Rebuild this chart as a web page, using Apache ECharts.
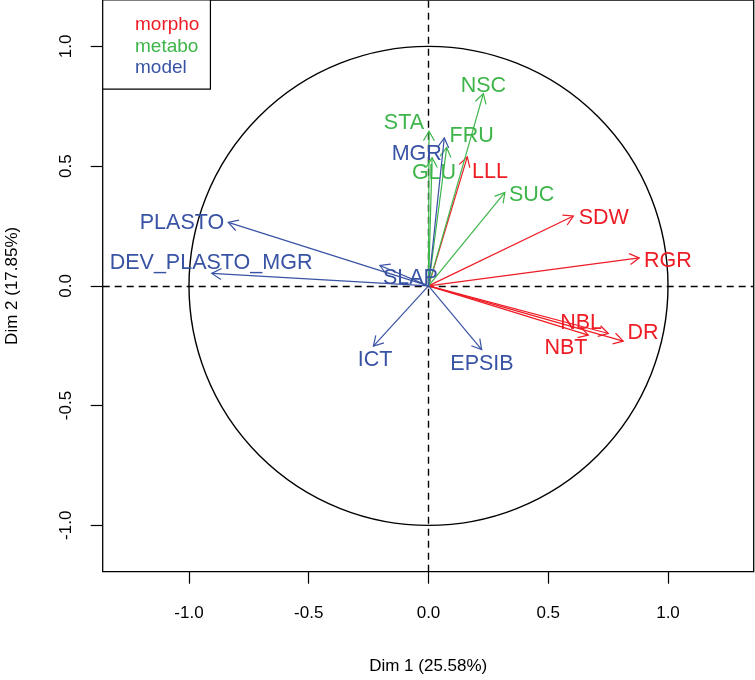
<!DOCTYPE html>
<html><head><meta charset="utf-8">
<script src="https://cdn.jsdelivr.net/npm/echarts@6/dist/echarts.min.js"></script>
<style>html,body{margin:0;padding:0;background:#fff}#c{width:755px;height:680px}</style>
</head><body><div id="c"></div>
<script>
// ---- data ----
const groupNames = ['morpho', 'metabo', 'model'];
const morphoVars = ['LLL', 'SDW', 'RGR', 'DR', 'NBL', 'NBT'];
const morphoDim1 = [0.162, 0.605, 0.880, 0.813, 0.751, 0.667];
const morphoDim2 = [0.539, 0.292, 0.117, -0.231, -0.199, -0.206];
const metaboVars = ['NSC', 'STA', 'FRU', 'GLU', 'SUC'];
const metaboDim1 = [0.229, 0.002, 0.076, 0.015, 0.319];
const metaboDim2 = [0.803, 0.646, 0.578, 0.535, 0.390];
const modelVars = ['MGR', 'PLASTO', 'DEV_PLASTO_MGR', 'SLAP', 'ICT', 'EPSIB'];
const modelDim1 = [0.066, -0.836, -0.905, -0.203, -0.230, 0.222];
const modelDim2 = [0.618, 0.265, 0.052, 0.085, -0.252, -0.266];
const tickValues = [-1, -0.5, 0, 0.5, 1];
const circleRadius = 1;
const xTitle = 'Dim 1 (25.58%)';
const yTitle = 'Dim 2 (17.85%)';

// ---- styles (label offsets in px, colours) ----
const groupColors = ['#EE1C25', '#3DB54A', '#3953A4'];
const morphoLabelOff = [[22.7, 15], [30.4, 2.6], [28.7, 3.3], [19.7, -8.3], [-27.3, -10], [-22.3, 13.3]];
const metaboLabelOff = [[0, -7.5], [-25, -8.3], [25, -11], [1.9, 15.7], [26.7, 3]];
const modelLabelOff = [[-27.6, 16.3], [-46.3, 1], [-0.7, -10.8], [30.5, 12.7], [1.7, 14], [0.3, 14.7]];
const FONT = '"Liberation Sans", Arial, Helvetica, sans-serif';

const groups = [
  {names: morphoVars, d1: morphoDim1, d2: morphoDim2, off: morphoLabelOff},
  {names: metaboVars, d1: metaboDim1, d2: metaboDim2, off: metaboLabelOff},
  {names: modelVars, d1: modelDim1, d2: modelDim2, off: modelLabelOff}
];

function arrowSeries(gi) {
  const g = groups[gi];
  const color = groupColors[gi];
  return {
    type: 'custom', name: groupNames[gi], coordinateSystem: 'cartesian2d',
    clip: false, silent: true, z: 5,
    itemStyle: {color: color},
    data: g.names.map((n, i) => [g.d1[i], g.d2[i]]),
    renderItem: function (params, api) {
      const i = params.dataIndex;
      const o = api.coord([0, 0]);
      const p = api.coord([api.value(0), api.value(1)]);
      const ang = Math.atan2(p[1] - o[1], p[0] - o[0]);
      const L = 11, a = Math.PI / 6;
      const b1 = [p[0] - L * Math.cos(ang - a), p[1] - L * Math.sin(ang - a)];
      const b2 = [p[0] - L * Math.cos(ang + a), p[1] - L * Math.sin(ang + a)];
      return {
        type: 'group', children: [
          {type: 'line', shape: {x1: o[0], y1: o[1], x2: p[0], y2: p[1]}, style: {stroke: color, lineWidth: 1.2}},
          {type: 'polyline', shape: {points: [b1, p, b2]}, style: {stroke: color, fill: null, lineWidth: 1.2}},
          {type: 'text', x: p[0] + g.off[i][0], y: p[1] + g.off[i][1],
            style: {text: g.names[i], fill: color, fontSize: 21.5, fontFamily: FONT, align: 'center', verticalAlign: 'middle'}}
        ]
      };
    }
  };
}

const axisCommon = {
  type: 'value',
  splitLine: {show: false},
  axisLine: {show: false, onZero: false},
  axisTick: {show: true, customValues: tickValues, length: 12, lineStyle: {color: '#000', width: 1.2}},
  axisLabel: {customValues: tickValues, formatter: v => v.toFixed(1), fontSize: 17, color: '#000', fontFamily: FONT},
  nameLocation: 'middle',
  nameTextStyle: {fontSize: 17, color: '#000', fontFamily: FONT}
};

const chart = echarts.init(document.getElementById('c'), null, {renderer: 'canvas'});
chart.setOption({
  animation: false,
  backgroundColor: '#fff',
  grid: {left: 102.7, right: 1.3, top: 0, bottom: 108.3, show: true, borderColor: '#000', borderWidth: 1.3,
    backgroundColor: 'transparent', containLabel: false, outerBoundsMode: 'none'},
  xAxis: Object.assign({}, axisCommon, {
    min: -1.3603, max: 1.3578, name: xTitle, nameGap: 86,
    axisLabel: Object.assign({}, axisCommon.axisLabel, {margin: 33})
  }),
  yAxis: Object.assign({}, axisCommon, {
    min: -1.194, max: 1.194, name: yTitle, nameGap: 82, nameRotate: 90,
    axisLabel: Object.assign({}, axisCommon.axisLabel, {margin: 28, rotate: 90})
  }),
  legend: {
    orient: 'vertical', left: 102.7, top: 0, selectedMode: false,
    itemWidth: 0, itemHeight: 0, itemGap: 0,
    padding: [14, 11, 10, 27.3],
    borderColor: '#000', borderWidth: 1.2, backgroundColor: '#fff',
    textStyle: {fontSize: 19, fontFamily: FONT, lineHeight: 21.7},
    data: groupNames.map((n, i) => ({name: n, icon: 'rect', textStyle: {color: groupColors[i]}}))
  },
  series: [
    {
      type: 'custom', name: 'circle', coordinateSystem: 'cartesian2d', silent: true, z: 2,
      data: [[0, 0]],
      renderItem: function (params, api) {
        const c = api.coord([api.value(0), api.value(1)]);
        const r = api.size([circleRadius, 0])[0];
        return {type: 'circle', shape: {cx: c[0], cy: c[1], r: r}, style: {fill: null, stroke: '#000', lineWidth: 1.4}};
      },
      markLine: {
        silent: true, symbol: 'none', label: {show: false},
        lineStyle: {type: [7, 5], color: '#000', width: 1.4},
        data: [{xAxis: 0}, {yAxis: 0}]
      }
    },
    arrowSeries(0), arrowSeries(1), arrowSeries(2)
  ]
});
</script>
</body></html>
